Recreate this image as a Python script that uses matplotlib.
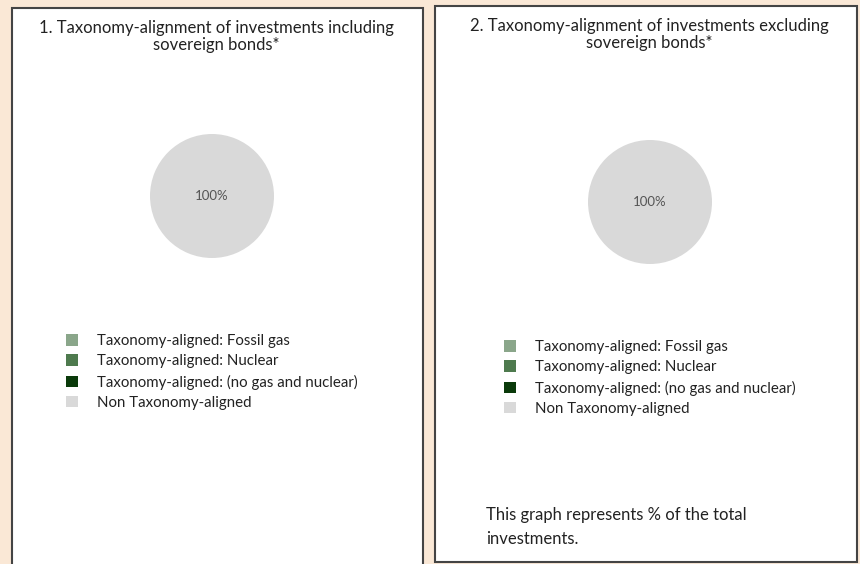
import matplotlib.pyplot as plt
from matplotlib.patches import Rectangle

plt.rcParams['font.family'] = ['Lato', 'DejaVu Sans']

titles = ['1. Taxonomy-alignment of investments including\nsovereign bonds*',
          '2. Taxonomy-alignment of investments excluding\nsovereign bonds*']
labels = ['Taxonomy-aligned: Fossil gas',
          'Taxonomy-aligned: Nuclear',
          'Taxonomy-aligned: (no gas and nuclear)',
          'Non Taxonomy-aligned']
incl_values = [0, 0, 0, 100]
excl_values = [0, 0, 0, 100]
colors = ['#8AA68A', '#4E7A4E', '#0A3A0A', '#D9D9D9']
note = 'This graph represents % of the total\ninvestments.'

W, H = 860, 564
fig = plt.figure(figsize=(W / 100, H / 100), dpi=100)
fig.patch.set_facecolor('#FAE8D6')


def fx(px):
    return px / W


def fy(py):
    return 1 - py / H


# panel boxes, drawn under the pie axes
fig.patches.append(Rectangle((fx(11.5), fy(580)), fx(411), (580 - 7.5) / H,
                             transform=fig.transFigure, facecolor='white',
                             edgecolor='#444444', linewidth=1.5, zorder=-5))
fig.patches.append(Rectangle((fx(434.5), fy(562)), fx(422), (562 - 5.5) / H,
                             transform=fig.transFigure, facecolor='white',
                             edgecolor='#444444', linewidth=1.5, zorder=-5))

panels = [
    dict(values=incl_values, title=titles[0], tx=216, ty=20, cx=212, cy=196,
         lx=66, ly=334),
    dict(values=excl_values, title=titles[1], tx=649, ty=18, cx=650, cy=202,
         lx=504, ly=340),
]

r = 62
for p in panels:
    fig.text(fx(p['tx']), fy(p['ty']), p['title'], ha='center', va='top',
             fontsize=12, color='#222222', linespacing=1.05)
    ax = fig.add_axes([fx(p['cx'] - r), fy(p['cy'] + r), 2 * r / W, 2 * r / H])
    wedges, texts, autotexts = ax.pie(
        p['values'], colors=colors, startangle=90, counterclock=False,
        autopct=lambda v: '%d%%' % round(v) if v > 0 else '',
        pctdistance=0.0, textprops=dict(fontsize=9.5, color='#555555'))
    ax.set_xlim(-1, 1)
    ax.set_ylim(-1, 1)
    ax.set_aspect('equal')
    fig.legend(wedges, labels, loc='upper left',
               bbox_to_anchor=(fx(p['lx']), fy(p['ly'])), frameon=False,
               fontsize=10.8, handlelength=0.8, handleheight=0.8,
               handletextpad=1.25, labelspacing=0.42, borderpad=0,
               borderaxespad=0, labelcolor='#222222')

fig.text(fx(486), fy(507), note, ha='left', va='top', fontsize=12,
         color='#222222', linespacing=1.65)

fig.savefig('out.png', dpi=100)
